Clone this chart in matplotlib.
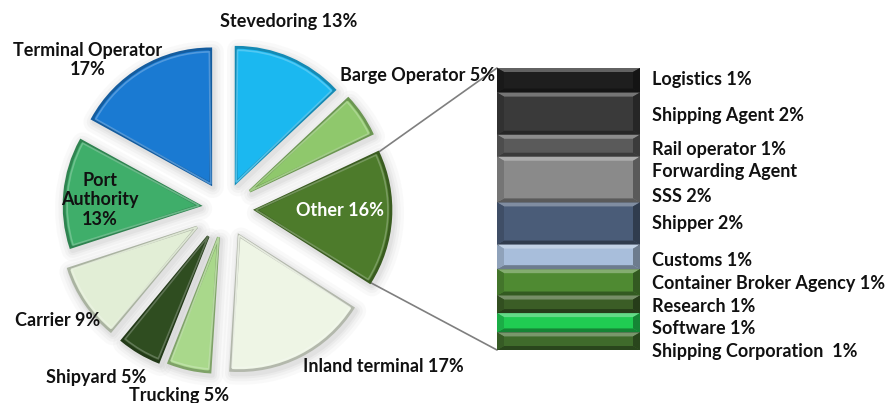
import numpy as np
import matplotlib
matplotlib.use("Agg")
import matplotlib.pyplot as plt
from matplotlib.patches import ConnectionPatch, Wedge, Polygon
import matplotlib.colors as mcolors

plt.rcParams['font.family'] = ['Lato', 'DejaVu Sans']
plt.rcParams['font.weight'] = 'bold'

# pie data (clockwise from 12 o'clock)
pie_names = ['Stevedoring', 'Barge Operator', 'Other', 'Inland terminal', 'Trucking',
             'Shipyard', 'Carrier', 'Port Authority', 'Terminal Operator']
pie_values = [13, 5, 16, 17, 5, 5, 9, 13, 17]
pie_labels = ['Stevedoring 13%', 'Barge Operator 5%', 'Other 16%', 'Inland terminal 17%',
              'Trucking 5%', 'Shipyard 5%', 'Carrier 9%', 'Port\nAuthority\n13%',
              'Terminal Operator\n17%']
pie_colors = ['#1bb8f0', '#8fc86c', '#4d7b2b', '#eef5e5', '#a9d88b',
              '#2f4d20', '#e2eed6', '#3fae6a', '#1a7ad2']

# breakdown of "Other" (top to bottom)
bar_names = ['Logistics', 'Shipping Agent', 'Rail operator', 'Forwarding Agent SSS', 'Shipper',
             'Customs', 'Container Broker Agency', 'Research', 'Software', 'Shipping Corporation']
bar_values = [1.4, 2.4, 1.25, 2.6, 2.4, 1.4, 1.5, 1.0, 1.1, 1.0]
bar_labels = ['Logistics 1%', 'Shipping Agent 2%', 'Rail operator 1%', 'Forwarding Agent\nSSS 2%',
              'Shipper 2%', 'Customs 1%', 'Container Broker Agency 1%', 'Research 1%',
              'Software 1%', 'Shipping Corporation  1%']
bar_colors = ['#1e1e1e', '#3a3a3a', '#5a5a5a', '#8a8a8a', '#4a5c78',
              '#a8bedb', '#4f8a32', '#3b5d26', '#20cc52', '#3f6b2b']

W, H = 890, 403
fig = plt.figure(figsize=(W / 100, H / 100), dpi=100)
ax = fig.add_axes([0, 0, 1, 1])

cx, cy = 225, 195
explode = [28, 30, 31, 31, 30, 33, 34, 26, 28]

wedges, _ = ax.pie(pie_values, colors=pie_colors, startangle=90, counterclock=False,
                   center=(cx, cy), radius=135, explode=explode,
                   wedgeprops=dict(linewidth=0))

# soft drop shadow around every wedge
for w in wedges:
    for lw, a in [(16, 0.035), (11, 0.05), (7, 0.06), (4, 0.07)]:
        ax.add_patch(Wedge((w.center[0] + 2, w.center[1] - 3), w.r, w.theta1, w.theta2,
                           facecolor='none', edgecolor='#707070', linewidth=lw,
                           alpha=a, joinstyle='round', zorder=1))

for w, c in zip(wedges, pie_colors):
    rgb = np.array(mcolors.to_rgb(c))
    w.set_edgecolor(rgb * 0.75)
    w.set_linewidth(2.0)
    w.set_zorder(3)
    # light inner rim for a bevel look
    ax.add_patch(Wedge(w.center, w.r - 3, w.theta1 + 0.6, w.theta2 - 0.6, width=None,
                       facecolor='none', edgecolor=rgb + (1 - rgb) * 0.3,
                       linewidth=1.2, alpha=0.8, zorder=3.5))

ax.set_xlim(0, W)
ax.set_ylim(0, H)
ax.set_aspect('equal')
ax.axis('off')

# pie labels (pixel layout)
pie_label_pos = [(289, 22), (418, 76), (340, 210), (383, 367), (179, 395),
                 (96, 377), (58, 321), (100, 200), (88, 60)]
for lab, (x, y) in zip(pie_labels, pie_label_pos):
    col = 'white' if lab.startswith('Other') else '#111111'
    ax.text(x, H - y, lab, ha='center', va='center', fontsize=13, color=col,
            fontweight='bold', linespacing=1.2, zorder=5)

# bar of "Other"
bx0, bx1, by0, by1 = 497, 640, 68, 350
ax2 = fig.add_axes([bx0 / W, 1 - by1 / H, (bx1 - bx0) / W, (by1 - by0) / H])
total = sum(bar_values)
bottom = total
dy = total * 4 / (by1 - by0)
dx = 7 / (bx1 - bx0)
for v, c in zip(bar_values, bar_colors):
    bottom -= v
    top = bottom + v
    ax2.bar(0, v, bottom=bottom, width=1, color=c, edgecolor='#2e2e2e', linewidth=1, zorder=1)
    rgb = np.array(mcolors.to_rgb(c))
    light = rgb + (1 - rgb) * 0.3
    dark = rgb * 0.65
    mid = rgb * 0.85
    L, R = -0.5, 0.5
    faces = [
        ([(L, top), (R, top), (R - dx, top - dy), (L + dx, top - dy)], light),
        ([(L, bottom), (R, bottom), (R - dx, bottom + dy), (L + dx, bottom + dy)], dark),
        ([(L, bottom), (L, top), (L + dx, top - dy), (L + dx, bottom + dy)], mid),
        ([(R, bottom), (R, top), (R - dx, top - dy), (R - dx, bottom + dy)], dark),
    ]
    for pts, fc in faces:
        ax2.add_patch(Polygon(pts, closed=True, facecolor=fc, edgecolor='none', zorder=2))
ax2.set_xlim(-0.5, 0.5)
ax2.set_ylim(0, total)
ax2.axis('off')

bar_label_y = [80, 116, 150, 184, 224, 260, 283, 306, 328, 352]
for lab, y in zip(bar_labels, bar_label_y):
    ax.text(652, H - y, lab, ha='left', va='center', fontsize=13, color='#111111',
            fontweight='bold', linespacing=1.55, zorder=5)

# connector lines from the "Other" wedge to the bar
other = wedges[2]
pts = []
for th in (other.theta1, other.theta2):
    x = other.center[0] + other.r * np.cos(np.radians(th))
    y = other.center[1] + other.r * np.sin(np.radians(th))
    pts.append((x, y))
pts.sort(key=lambda p: p[1])
for p, yb in zip(pts, (0, total)):
    con = ConnectionPatch(xyA=p, coordsA=ax.transData, xyB=(-0.5, yb), coordsB=ax2.transData,
                          color='#7f7f7f', linewidth=1.2, zorder=0)
    fig.add_artist(con)

fig.savefig('out.png', dpi=100, facecolor='white')
